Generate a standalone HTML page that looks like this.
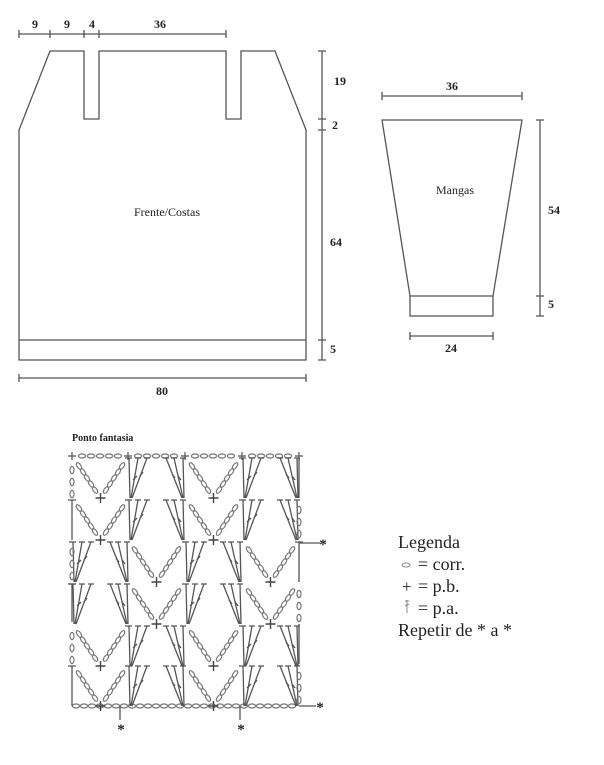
<!DOCTYPE html>
<html><head><meta charset="utf-8"><style>
html,body{margin:0;padding:0;background:#fff;}
svg{display:block;}
text{font-family:"Liberation Serif",serif;fill:#222;}
</style></head><body>
<svg width="604" height="765" viewBox="0 0 604 765" xmlns="http://www.w3.org/2000/svg">
<defs>
<g id="ovl"><ellipse cx="0" cy="0" rx="3.6" ry="2" fill="none" stroke="#777" stroke-width="1.2"/></g>
<g id="vr">
 <g stroke="#777" stroke-width="1.2" fill="none">
  <ellipse cx="0" cy="0" rx="3.8" ry="1.9" transform="translate(7,10) rotate(55)"/>
  <ellipse cx="0" cy="0" rx="3.8" ry="1.9" transform="translate(11,16) rotate(55)"/>
  <ellipse cx="0" cy="0" rx="3.8" ry="1.9" transform="translate(15,22) rotate(55)"/>
  <ellipse cx="0" cy="0" rx="3.8" ry="1.9" transform="translate(19,28) rotate(55)"/>
  <ellipse cx="0" cy="0" rx="3.8" ry="1.9" transform="translate(23,34) rotate(55)"/>
  <ellipse cx="0" cy="0" rx="3.8" ry="1.9" transform="translate(50,10) rotate(-55)"/>
  <ellipse cx="0" cy="0" rx="3.8" ry="1.9" transform="translate(46,16) rotate(-55)"/>
  <ellipse cx="0" cy="0" rx="3.8" ry="1.9" transform="translate(42,22) rotate(-55)"/>
  <ellipse cx="0" cy="0" rx="3.8" ry="1.9" transform="translate(38,28) rotate(-55)"/>
  <ellipse cx="0" cy="0" rx="3.8" ry="1.9" transform="translate(34,34) rotate(-55)"/>
 </g>
 <path d="M28.5,37 v10 M23.5,42 h10" stroke="#444" stroke-width="1.4"/>
</g>
<g id="dr" stroke="#555" stroke-width="1.3" fill="none">
 <path d="M1,2 L2,42 M10,2 L3,42 M19,2 L4,42"/>
 <path d="M-3,2 h7 M7,2 h6 M16,2 h6"/>
 <path d="M38,2 L54,42 M46,2 L55,42 M55,2 L56,42"/>
 <path d="M35,2 h6 M43,2 h6 M52,2 h6"/>
 <path d="M5,24 l4,-4 M12,20 l3,-4 M44,18 l3,4 M50,20 l3,4"/>
</g>
</defs>

<g stroke="#555" stroke-width="1.3" fill="none">
 <path d="M50,51 H84 V119 H99 V51 H226 V119 H241 V51 H275 L306,130 V360 H19 V130 Z"/>
 <path d="M19,340 H306"/>
 <path d="M19,34 H226 M19,30 v8 M50,30 v8 M84,30 v8 M99,30 v8 M226,30 v8"/>
 <path d="M322,51 V360 M318,51 h8 M318,119 h8 M318,130 h8 M318,340 h8 M318,360 h8"/>
 <path d="M19,378 H306 M19,374 v8 M306,374 v8"/>
 <path d="M382,120 H522 L493,296 V316 H410 V296 Z M410,296 H493"/>
 <path d="M382,96 H522 M382,92 v8 M522,92 v8"/>
 <path d="M540,120 V316 M536,120 h8 M536,296 h8 M536,316 h8"/>
 <path d="M410,336 H493 M410,332 v8 M493,332 v8"/>
</g>
<g font-size="12" font-weight="bold" text-anchor="middle">
 <text x="35" y="28">9</text><text x="67" y="28">9</text><text x="92" y="28">4</text><text x="160" y="28">36</text>
 <text x="334" y="85" text-anchor="start">19</text>
 <text x="332" y="129" text-anchor="start">2</text>
 <text x="330" y="246" text-anchor="start">64</text>
 <text x="330" y="353" text-anchor="start">5</text>
 <text x="162" y="395">80</text>
 <text x="452" y="90">36</text>
 <text x="548" y="214" text-anchor="start">54</text>
 <text x="548" y="308" text-anchor="start">5</text>
 <text x="451" y="352">24</text>
</g>
<text x="167" y="216" font-size="12" text-anchor="middle">Frente/Costas</text>
<text x="455" y="194" font-size="12" text-anchor="middle">Mangas</text>

<text x="72" y="441" font-size="10" font-weight="bold">Ponto fantasia</text>

<g>
 <g stroke="#555" stroke-width="1.2">
  <path d="M68,456 h8 M72,452 v8 M124,456 h8 M128,452 v8 M181,456 h8 M185,452 v8 M238,456 h8 M242,452 v8 M295,456 h8 M299,452 v8"/>
 </g>
 <use href="#ovl" x="82" y="456"/><use href="#ovl" x="91" y="456"/><use href="#ovl" x="100" y="456"/><use href="#ovl" x="109" y="456"/><use href="#ovl" x="118" y="456"/>
 <use href="#ovl" x="138" y="456"/><use href="#ovl" x="147" y="456"/><use href="#ovl" x="156" y="456"/><use href="#ovl" x="165" y="456"/><use href="#ovl" x="174" y="456"/>
 <use href="#ovl" x="195" y="456"/><use href="#ovl" x="204" y="456"/><use href="#ovl" x="213" y="456"/><use href="#ovl" x="222" y="456"/><use href="#ovl" x="231" y="456"/>
 <use href="#ovl" x="252" y="456"/><use href="#ovl" x="261" y="456"/><use href="#ovl" x="270" y="456"/><use href="#ovl" x="279" y="456"/><use href="#ovl" x="288" y="456"/>
 <g>
 <use href="#ovl" x="76" y="706"/><use href="#ovl" x="84" y="706"/><use href="#ovl" x="92" y="706"/><use href="#ovl" x="100" y="706"/><use href="#ovl" x="108" y="706"/><use href="#ovl" x="116" y="706"/><use href="#ovl" x="124" y="706"/><use href="#ovl" x="132" y="706"/><use href="#ovl" x="140" y="706"/><use href="#ovl" x="148" y="706"/><use href="#ovl" x="156" y="706"/><use href="#ovl" x="164" y="706"/><use href="#ovl" x="172" y="706"/><use href="#ovl" x="180" y="706"/><use href="#ovl" x="188" y="706"/><use href="#ovl" x="196" y="706"/><use href="#ovl" x="204" y="706"/><use href="#ovl" x="212" y="706"/><use href="#ovl" x="220" y="706"/><use href="#ovl" x="228" y="706"/><use href="#ovl" x="236" y="706"/><use href="#ovl" x="244" y="706"/><use href="#ovl" x="252" y="706"/><use href="#ovl" x="260" y="706"/><use href="#ovl" x="268" y="706"/><use href="#ovl" x="276" y="706"/><use href="#ovl" x="284" y="706"/><use href="#ovl" x="292" y="706"/>
 </g>
 <use href="#vr" x="72" y="456"/><use href="#dr" x="128" y="456"/><use href="#vr" x="185" y="456"/><use href="#dr" x="242" y="456"/>
 <use href="#vr" x="72" y="498"/><use href="#dr" x="128" y="498"/><use href="#vr" x="185" y="498"/><use href="#dr" x="242" y="498"/>
 <use href="#dr" x="72" y="540"/><use href="#vr" x="128" y="540"/><use href="#dr" x="185" y="540"/><use href="#vr" x="242" y="540"/>
 <use href="#dr" x="72" y="582"/><use href="#vr" x="128" y="582"/><use href="#dr" x="185" y="582"/><use href="#vr" x="242" y="582"/>
 <use href="#vr" x="72" y="624"/><use href="#dr" x="128" y="624"/><use href="#vr" x="185" y="624"/><use href="#dr" x="242" y="624"/>
 <use href="#vr" x="72" y="664"/><use href="#dr" x="128" y="664"/><use href="#vr" x="185" y="664"/><use href="#dr" x="242" y="664"/>
 <g stroke="#777" stroke-width="1.2" fill="none">
  <ellipse cx="72" cy="470" rx="2" ry="3.6"/><ellipse cx="72" cy="482" rx="2" ry="3.6"/><ellipse cx="72" cy="494" rx="2" ry="3.6"/>
  <ellipse cx="72" cy="552" rx="2" ry="3.6"/><ellipse cx="72" cy="564" rx="2" ry="3.6"/><ellipse cx="72" cy="576" rx="2" ry="3.6"/>
  <ellipse cx="72" cy="636" rx="2" ry="3.6"/><ellipse cx="72" cy="648" rx="2" ry="3.6"/><ellipse cx="72" cy="660" rx="2" ry="3.6"/>
  <ellipse cx="299" cy="510" rx="2" ry="3.6"/><ellipse cx="299" cy="522" rx="2" ry="3.6"/><ellipse cx="299" cy="534" rx="2" ry="3.6"/>
  <ellipse cx="299" cy="594" rx="2" ry="3.6"/><ellipse cx="299" cy="606" rx="2" ry="3.6"/><ellipse cx="299" cy="618" rx="2" ry="3.6"/>
  <ellipse cx="299" cy="676" rx="2" ry="3.6"/><ellipse cx="299" cy="688" rx="2" ry="3.6"/><ellipse cx="299" cy="700" rx="2" ry="3.6"/>
 </g>
 <g stroke="#555" stroke-width="1.3" fill="none">
  <path d="M72,500 V540 M68,500 h8 M72,584 V622 M68,584 h8 M72,666 V706 M68,666 h8"/>
  <path d="M299,458 V498 M299,542 V582 M295,542 h8 M299,624 V664"/>
  <path d="M299,543 H320 M299,706 H316 M120,706 V720 M240,706 V720"/>
 </g>
 <g font-size="15" font-weight="bold" text-anchor="middle">
  <text x="323" y="549">*</text><text x="320" y="712">*</text><text x="121" y="734">*</text><text x="241" y="734">*</text>
 </g>
</g>

<g font-size="18">
 <text x="398" y="548">Legenda</text>
 <ellipse cx="406" cy="565" rx="4" ry="2" fill="none" stroke="#888" stroke-width="1"/>
 <text x="418" y="570">= corr.</text>
 <text x="402" y="592" font-size="17">+</text><text x="418" y="592">= p.b.</text>
 <path d="M407,600 V613 M405,601 h4 M405,606 l4,-2" stroke="#888" stroke-width="1" fill="none"/>
 <text x="418" y="614">= p.a.</text>
 <text x="398" y="636">Repetir de * a *</text>
</g>
</svg>
</body></html>
